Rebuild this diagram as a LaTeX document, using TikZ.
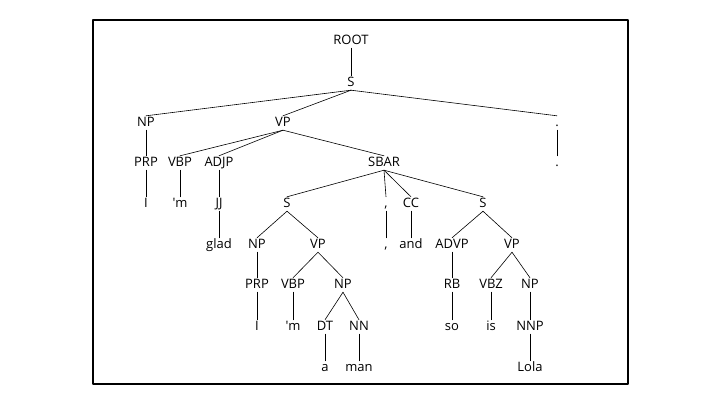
\documentclass[tikz,border=0pt]{standalone}
\usepackage{fontspec}
\setmainfont{Open Sans}

\begin{document}
\begin{tikzpicture}[x=1pt, y=-1pt, line join=round, line cap=round,
    lbl/.style={inner sep=1pt, text height=9.5pt, text depth=2.5pt, font=\fontsize{13}{15}\selectfont},
    edge/.style={line width=0.6pt, black},
    frame/.style={line width=1.3pt, black}]
    % canvas and frame
    \useasboundingbox (0,0) rectangle (720,405);
    \draw[frame] (93,20) rectangle (628,384);

    % 1. top levels
    \node[lbl] (ROOT) at (351,41) {ROOT};
    \node[lbl] (S0) at (351,83) {S};
    \node[lbl] (NP1) at (146,123) {NP};
    \node[lbl] (VP1) at (283,123) {VP};
    \node[lbl] (PD1) at (557,123) {.};

    % 2. level under NP / VP
    \node[lbl] (PRP1) at (146,163) {PRP};
    \node[lbl] (VBP1) at (180,163) {VBP};
    \node[lbl] (ADJP) at (219,163) {ADJP};
    \node[lbl] (SBAR) at (384,163) {SBAR};
    \node[lbl] (PD2) at (557,163) {.};

    \node[lbl] (I1) at (146,204) {I};
    \node[lbl] (M1) at (180,204) {\textquotesingle m};
    \node[lbl] (JJ) at (219,204) {JJ};
    \node[lbl] (S2) at (287,204) {S};
    \node[lbl] (CM1) at (386,204) {,};
    \node[lbl] (CC) at (411,204) {CC};
    \node[lbl] (S3) at (483,204) {S};

    % 3. the two clauses
    \node[lbl] (GLAD) at (219,245) {glad};
    \node[lbl] (NP2) at (257,245) {NP};
    \node[lbl] (VP2) at (318,245) {VP};
    \node[lbl] (CM2) at (386,245) {,};
    \node[lbl] (AND) at (411,245) {and};
    \node[lbl] (ADVP) at (452,245) {ADVP};
    \node[lbl] (VP3) at (512,245) {VP};

    \node[lbl] (PRP2) at (257,285) {PRP};
    \node[lbl] (VBP2) at (293,285) {VBP};
    \node[lbl] (NP3) at (343,285) {NP};
    \node[lbl] (RB) at (452,285) {RB};
    \node[lbl] (VBZ) at (491,285) {VBZ};
    \node[lbl] (NP4) at (530,285) {NP};

    \node[lbl] (I2) at (257,327) {I};
    \node[lbl] (M2) at (293,327) {\textquotesingle m};
    \node[lbl] (DT) at (325,327) {DT};
    \node[lbl] (NN) at (359,327) {NN};
    \node[lbl] (SO) at (452,327) {so};
    \node[lbl] (IS) at (491,327) {is};
    \node[lbl] (NNP) at (530,327) {NNP};

    \node[lbl] (A) at (325,368) {a};
    \node[lbl] (MAN) at (359,368) {man};
    \node[lbl] (LOLA) at (530,368) {Lola};

    % 4. branches
    \draw[edge] (ROOT.south) -- (S0.north);
    \draw[edge] (S0.south) -- (NP1.north);
    \draw[edge] (S0.south) -- (VP1.north);
    \draw[edge] (S0.south) -- (PD1.north);
    \draw[edge] (NP1.south) -- (PRP1.north);
    \draw[edge] (PRP1.south) -- (I1.north);
    \draw[edge] (VP1.south) -- (VBP1.north);
    \draw[edge] (VP1.south) -- (ADJP.north);
    \draw[edge] (VP1.south) -- (SBAR.north);
    \draw[edge] (VBP1.south) -- (M1.north);
    \draw[edge] (ADJP.south) -- (JJ.north);
    \draw[edge] (JJ.south) -- (GLAD.north);
    \draw[edge] (PD1.south) -- (PD2.north);
    \draw[edge] (SBAR.south) -- (S2.north);
    \draw[edge] (SBAR.south) -- (CM1.north);
    \draw[edge] (SBAR.south) -- (CC.north);
    \draw[edge] (SBAR.south) -- (S3.north);
    \draw[edge] (CM1.south) -- (CM2.north);
    \draw[edge] (CC.south) -- (AND.north);
    \draw[edge] (S2.south) -- (NP2.north);
    \draw[edge] (S2.south) -- (VP2.north);
    \draw[edge] (NP2.south) -- (PRP2.north);
    \draw[edge] (PRP2.south) -- (I2.north);
    \draw[edge] (VP2.south) -- (VBP2.north);
    \draw[edge] (VP2.south) -- (NP3.north);
    \draw[edge] (VBP2.south) -- (M2.north);
    \draw[edge] (NP3.south) -- (DT.north);
    \draw[edge] (NP3.south) -- (NN.north);
    \draw[edge] (DT.south) -- (A.north);
    \draw[edge] (NN.south) -- (MAN.north);
    \draw[edge] (S3.south) -- (ADVP.north);
    \draw[edge] (S3.south) -- (VP3.north);
    \draw[edge] (ADVP.south) -- (RB.north);
    \draw[edge] (RB.south) -- (SO.north);
    \draw[edge] (VP3.south) -- (VBZ.north);
    \draw[edge] (VP3.south) -- (NP4.north);
    \draw[edge] (VBZ.south) -- (IS.north);
    \draw[edge] (NP4.south) -- (NNP.north);
    \draw[edge] (NNP.south) -- (LOLA.north);
\end{tikzpicture}
\end{document}
